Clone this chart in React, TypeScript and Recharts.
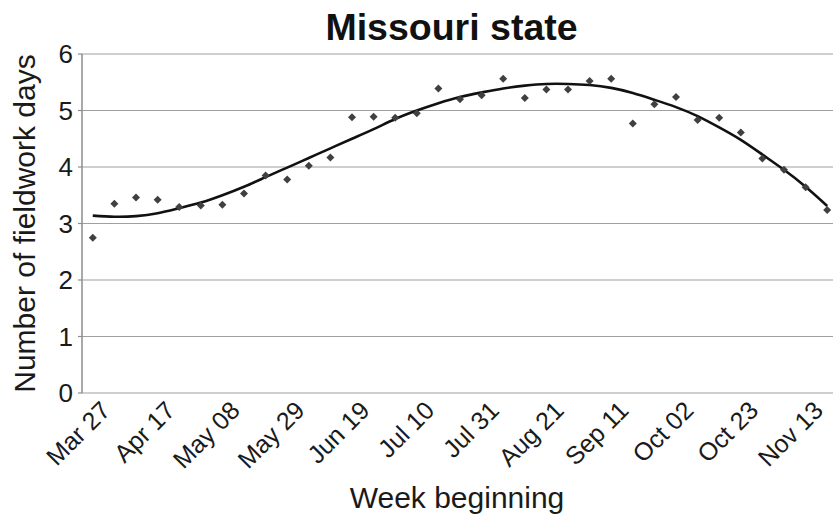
import React from 'react';
import { ComposedChart, Scatter, Line, XAxis, YAxis, CartesianGrid } from 'recharts';

const chartTitle = 'Missouri state';
const xTitle = 'Week beginning';
const yTitle = 'Number of fieldwork days';

const weeks = [
  'Mar 27', 'Apr 03', 'Apr 10', 'Apr 17', 'Apr 24', 'May 01', 'May 08', 'May 15', 'May 22', 'May 29',
  'Jun 05', 'Jun 12', 'Jun 19', 'Jun 26', 'Jul 03', 'Jul 10', 'Jul 17', 'Jul 24', 'Jul 31', 'Aug 07',
  'Aug 14', 'Aug 21', 'Aug 28', 'Sep 04', 'Sep 11', 'Sep 18', 'Sep 25', 'Oct 02', 'Oct 09', 'Oct 16',
  'Oct 23', 'Oct 30', 'Nov 06', 'Nov 13', 'Nov 20',
];

const fieldworkDays = [
  2.75, 3.35, 3.46, 3.42, 3.29, 3.32, 3.33, 3.53, 3.85, 3.78,
  4.02, 4.17, 4.88, 4.89, 4.87, 4.95, 5.39, 5.2, 5.27, 5.56,
  5.22, 5.37, 5.37, 5.52, 5.56, 4.77, 5.11, 5.24, 4.83, 4.87,
  4.61, 4.15, 3.95, 3.64, 3.24,
];

const trendDays = [
  3.14, 3.12, 3.13, 3.18, 3.27, 3.37, 3.5, 3.65, 3.82, 3.99,
  4.16, 4.33, 4.5, 4.67, 4.85, 5.0, 5.13, 5.24, 5.32, 5.39,
  5.44, 5.47, 5.47, 5.45, 5.4, 5.31, 5.19, 5.06, 4.9, 4.7,
  4.48, 4.22, 3.95, 3.65, 3.31,
];

const yTicks = [0, 1, 2, 3, 4, 5, 6];
const labelStep = 3;

const data = weeks.map((week, i) => ({
  idx: i,
  week,
  days: fieldworkDays[i],
  trend: trendDays[i],
}));

const labelTicks = weeks.map((_, i) => i).filter((i) => i % labelStep === 0);
const boundaryTicks = labelTicks.map((i) => i - 0.5);
const xDomain = [-0.5, weeks.length - 0.5];

const FONT = '"Liberation Sans", Arial, Helvetica, sans-serif';
const TEXT = '#1a1a1a';
const AXIS = '#8c8c8c';
const GRID = '#a0a0a0';

const Diamond = (props: any) => {
  const { cx, cy } = props;
  if (cx == null || cy == null) return null;
  const r = 4;
  return (
    <polygon
      points={`${cx},${cy - r} ${cx + r},${cy} ${cx},${cy + r} ${cx - r},${cy}`}
      fill="#404040"
    />
  );
};

const XTick = (props: any) => {
  const { x, y, payload } = props;
  return (
    <g transform={`translate(${x},${y})`}>
      <text
        transform="translate(19,19) rotate(-45)"
        textAnchor="end"
        fontSize={25}
        fill={TEXT}
        fontFamily={FONT}
      >
        {weeks[payload.value]}
      </text>
    </g>
  );
};

export default function App() {
  return (
    <div
      style={{
        position: 'absolute',
        left: 0,
        top: 0,
        width: 833,
        height: 519,
        overflow: 'hidden',
        background: '#ffffff',
        fontFamily: FONT,
      }}
    >
      <div
        style={{
          position: 'absolute',
          left: 0,
          top: 9,
          width: 903,
          textAlign: 'center',
          fontSize: 37.5,
          lineHeight: '37px',
          fontWeight: 'bold',
          color: '#111',
          fontFamily: FONT,
        }}
      >
        {chartTitle}
      </div>
      <ComposedChart
        width={850}
        height={519}
        data={data}
        margin={{ top: 54, right: 12, bottom: 0, left: 0 }}
        style={{ fontFamily: FONT }}
      >
        <CartesianGrid xAxisId="labels" vertical={false} stroke={GRID} strokeWidth={1.2} />
        <XAxis
          xAxisId="bounds"
          dataKey="idx"
          type="number"
          domain={xDomain}
          ticks={boundaryTicks}
          tick={false}
          height={0}
          tickSize={5}
          axisLine={{ stroke: AXIS, strokeWidth: 1.5 }}
          tickLine={{ stroke: AXIS, strokeWidth: 1.2 }}
          allowDataOverflow
        />
        <XAxis
          xAxisId="labels"
          dataKey="idx"
          type="number"
          domain={xDomain}
          ticks={labelTicks}
          interval={0}
          height={126}
          tickSize={0}
          tickMargin={0}
          axisLine={false}
          tickLine={false}
          tick={<XTick />}
          allowDataOverflow
          label={{
            value: xTitle,
            position: 'insideBottom',
            offset: 11,
            dx: -3,
            style: { fontSize: 30, fill: TEXT, fontFamily: FONT },
          }}
        />
        <YAxis
          type="number"
          domain={[0, 6]}
          ticks={yTicks}
          width={82}
          tickSize={4}
          tickMargin={5}
          axisLine={{ stroke: AXIS, strokeWidth: 1.5 }}
          tickLine={{ stroke: AXIS, strokeWidth: 1.2 }}
          tick={{ fontSize: 26, fill: TEXT, fontFamily: FONT }}
          label={{
            value: yTitle,
            angle: -90,
            position: 'insideLeft',
            offset: 24,
            style: { textAnchor: 'middle', fontSize: 30, fill: TEXT, fontFamily: FONT },
          }}
        />
        <Scatter
          xAxisId="labels"
          dataKey="days"
          shape={<Diamond />}
          isAnimationActive={false}
        />
        <Line
          xAxisId="labels"
          dataKey="trend"
          type="natural"
          stroke="#111"
          strokeWidth={2.6}
          dot={false}
          activeDot={false}
          isAnimationActive={false}
        />
      </ComposedChart>
    </div>
  );
}
